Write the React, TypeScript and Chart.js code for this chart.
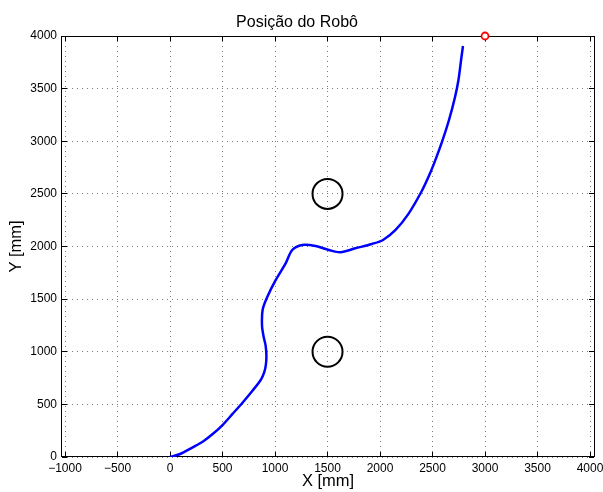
import React, { useEffect, useRef } from "react";
import { Chart, registerables } from "chart.js";

Chart.register(...registerables);

// Robot path (mm)
const pathX = [0, 90, 216, 311, 406, 500, 595, 690, 785, 864, 896, 912, 918, 910, 890, 876, 882, 927, 1007, 1101, 1164, 1259, 1386, 1512, 1623, 1765, 1922, 2029, 2148, 2274, 2394, 2463, 2515, 2591, 2657, 2715, 2747, 2772, 2790];
const pathY = [0, 26, 92, 145, 218, 304, 409, 516, 630, 732, 801, 870, 960, 1060, 1150, 1250, 1400, 1523, 1682, 1840, 1967, 2014, 2005, 1967, 1945, 1983, 2024, 2062, 2157, 2315, 2520, 2665, 2790, 2996, 3202, 3423, 3582, 3772, 3905];

// Obstacles
const obstacleX = [1500, 1500];
const obstacleY = [2500, 1000];

// Target
const targetX = [3000];
const targetY = [4000];

// Tick values
const xTicks = [-1000, -500, 0, 500, 1000, 1500, 2000, 2500, 3000, 3500, 4000];
const yTicks = [0, 500, 1000, 1500, 2000, 2500, 3000, 3500, 4000];

const xMin = -1029;
const xMax = 4038;
const yMin = 0;
const yMax = 4000;

const FONT = "'Liberation Sans', Arial, Helvetica, sans-serif";

const fmt = (v: number) => (v < 0 ? "\u2212" : "") + Math.abs(v);

const framePlugin = {
  id: "frame",
  beforeDatasetsDraw(chart: any) {
    const { ctx, chartArea: a, scales } = chart;
    ctx.save();
    ctx.strokeStyle = "#000";
    ctx.lineWidth = 1;
    ctx.setLineDash([]);
    ctx.strokeRect(a.left - 0.5, a.top + 0.5, a.right - a.left + 1, a.bottom - a.top - 1);
    const L = 5;
    ctx.beginPath();
    for (const t of scales.x.ticks) {
      const px = Math.round(scales.x.getPixelForValue(t.value) - 0.5) + 0.5;
      ctx.moveTo(px, a.bottom);
      ctx.lineTo(px, a.bottom - L);
      ctx.moveTo(px, a.top);
      ctx.lineTo(px, a.top + L);
    }
    for (const t of scales.y.ticks) {
      const py = Math.round(scales.y.getPixelForValue(t.value) - 0.5) + 0.5;
      ctx.moveTo(a.left, py);
      ctx.lineTo(a.left + L, py);
      ctx.moveTo(a.right, py);
      ctx.lineTo(a.right - L, py);
    }
    ctx.stroke();
    ctx.restore();
  },
};

export default function App() {
  const ref = useRef<HTMLCanvasElement | null>(null);

  useEffect(() => {
    if (!ref.current) return;
    const pathData = pathX.map((x, i) => ({ x, y: pathY[i] }));
    const obstacleData = obstacleX.map((x, i) => ({ x, y: obstacleY[i] }));
    const targetData = targetX.map((x, i) => ({ x, y: targetY[i] }));

    const chart = new Chart(ref.current, {
      type: "scatter",
      data: {
        datasets: [
          {
            label: "path",
            data: pathData,
            showLine: true,
            borderColor: "#0000ff",
            backgroundColor: "#0000ff",
            borderWidth: 2.5,
            pointRadius: 0,
            tension: 0.3,
          },
          {
            label: "obstacles",
            data: obstacleData,
            showLine: false,
            borderColor: "#000",
            backgroundColor: "rgba(0,0,0,0)",
            borderWidth: 2,
            pointRadius: 15,
          },
          {
            label: "target",
            data: targetData,
            showLine: false,
            borderColor: "#ff0000",
            backgroundColor: "#ffffff",
            borderWidth: 1.8,
            pointRadius: 3.5,
            clip: false,
          } as any,
        ],
      },
      options: {
        responsive: false,
        maintainAspectRatio: false,
        animation: false,
        layout: { autoPadding: false, padding: { left: 0, right: 9, top: 0, bottom: 0 } },
        plugins: {
          legend: { display: false },
          tooltip: { enabled: false },
          title: {
            display: true,
            text: "Posição do Robô",
            color: "#000",
            font: { family: FONT, size: 16, weight: "normal" as any, lineHeight: 1.2 },
            padding: { top: 13, bottom: 3.8 },
          },
        },
        scales: {
          x: {
            type: "linear",
            min: xMin,
            max: xMax,
            afterBuildTicks(scale: any) {
              scale.ticks = xTicks.map((v) => ({ value: v }));
            },
            afterFit(scale: any) {
              scale.height = 35;
              scale.paddingLeft = 0;
              scale.paddingRight = 0;
            },
            ticks: {
              color: "#000",
              padding: 4,
              maxRotation: 0,
              autoSkip: false,
              font: { family: FONT, size: 12 },
              callback: (v: any) => fmt(Number(v)),
            },
            grid: {
              color: "#7a7a7a",
              lineWidth: 1,
              drawTicks: false,
            },
            border: { display: false, dash: [1, 4] },
            title: {
              display: true,
              text: "X [mm]",
              color: "#000",
              font: { family: FONT, size: 16.5, lineHeight: 1.2 },
              padding: { top: 0, bottom: 1 },
            },
          },
          y: {
            type: "linear",
            min: yMin,
            max: yMax,
            afterBuildTicks(scale: any) {
              scale.ticks = yTicks.map((v) => ({ value: v }));
            },
            afterFit(scale: any) {
              scale.width = 62;
              scale.paddingTop = 0;
              scale.paddingBottom = 0;
            },
            ticks: {
              color: "#000",
              padding: 5,
              autoSkip: false,
              font: { family: FONT, size: 12 },
              callback: (v: any) => fmt(Number(v)),
            },
            grid: {
              color: "#7a7a7a",
              lineWidth: 1,
              drawTicks: false,
            },
            border: { display: false, dash: [1, 4] },
            title: {
              display: true,
              text: "Y [mm]",
              color: "#000",
              font: { family: FONT, size: 16.5, lineHeight: 1.2 },
              padding: { top: 7, bottom: 0 },
            },
          },
        },
      },
      plugins: [framePlugin],
    });
    return () => chart.destroy();
  }, []);

  return (
    <div style={{ position: "absolute", left: 0, top: 0, width: 603, height: 492, background: "#fff" }}>
      <canvas ref={ref} width={603} height={492} style={{ display: "block", width: 603, height: 492 }} />
    </div>
  );
}
